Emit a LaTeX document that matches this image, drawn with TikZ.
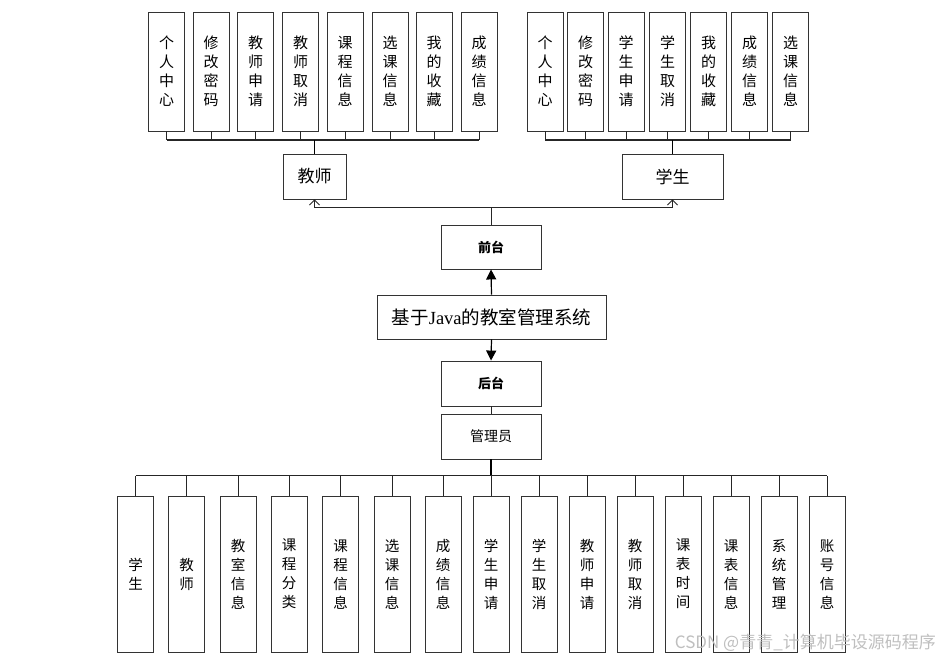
\documentclass[tikz,border=0pt]{standalone}
\usepackage{fontspec}
\setmainfont{Liberation Serif}
\newfontfamily\cjk{Noto Sans CJK SC}
\usetikzlibrary{arrows.meta}
\tikzset{
  box/.style={draw=black!80, line width=0.9pt, fill=white, inner sep=0pt, rectangle},
  vbox/.style={box, minimum width=36pt, minimum height=119pt, align=center,
    font=\cjk\fontsize{15}{19}\selectfont},
  bbox/.style={box, minimum width=36pt, minimum height=156pt, align=center,
    font=\cjk\fontsize{14.5}{19}\selectfont},
  conn/.style={draw=black!85, line width=0.9pt},
  bus/.style={draw=black!85, line width=1.3pt},
  openarr/.style={conn, -{Straight Barb[length=5pt,width=10pt]}},
  fillarr/.style={draw=black, line width=1.2pt, -{Triangle[length=10pt,width=10pt]}},
}
\begin{document}
\begin{tikzpicture}[x=1pt,y=-1pt]
\useasboundingbox (0,0) rectangle (940,659);
% teacher leaves
\foreach \n/\x/\t in {1/166.5/个\\人\\中\\心, 2/211/修\\改\\密\\码, 3/255.5/教\\师\\申\\请, 4/300.5/教\\师\\取\\消,
  5/345/课\\程\\信\\息, 6/390/选\\课\\信\\息, 7/434/我\\的\\收\\藏, 8/479/成\\绩\\信\\息}
  \node[vbox] (t\n) at (\x,71.5) {\t};
% student leaves
\foreach \n/\x/\t in {1/545/个\\人\\中\\心, 2/585.5/修\\改\\密\\码, 3/626/学\\生\\申\\请, 4/667.5/学\\生\\取\\消,
  5/708.5/我\\的\\收\\藏, 6/749.5/成\\绩\\信\\息, 7/790.5/选\\课\\信\\息}
  \node[vbox] (s\n) at (\x,71.5) {\t};
% middle boxes
\node[box, minimum width=63pt, minimum height=45pt, font=\cjk\fontsize{17}{20}\selectfont] (teacher) at (314.5,176.5) {教师};
\node[box, minimum width=101pt, minimum height=45pt, font=\cjk\fontsize{17}{20}\selectfont] (student) at (672.5,176.5) {学生};
\node[box, minimum width=100pt, minimum height=44pt, font=\cjk\bfseries\fontsize{13}{16}\selectfont] (qian) at (491,247) {前台};
\node[box, minimum width=229pt, minimum height=44pt, font=\fontsize{18.5}{22}\selectfont] (sys) at (491.5,317) {{\cjk 基于}Java{\cjk 的教室管理系统}};
\node[box, minimum width=100pt, minimum height=45pt, font=\cjk\bfseries\fontsize{13}{16}\selectfont] (hou) at (491,383.5) {后台};
\node[box, minimum width=100pt, minimum height=45pt, font=\cjk\fontsize{14}{16}\selectfont] (admin) at (491,436.5) {管理员};
% bottom leaves
\foreach \n/\x/\t in {1/135.5/学\\生, 2/186.5/教\\师, 3/238/教\\室\\信\\息, 4/289/课\\程\\分\\类,
  5/340.5/课\\程\\信\\息, 6/392/选\\课\\信\\息, 7/443/成\\绩\\信\\息, 8/491/学\\生\\申\\请,
  9/539/学\\生\\取\\消, 10/587/教\\师\\申\\请, 11/635/教\\师\\取\\消, 12/683/课\\表\\时\\间,
  13/731/课\\表\\信\\息, 14/779/系\\统\\管\\理, 15/827/账\\号\\信\\息}
  \node[bbox] (b\n) at (\x,574) {\t};
% teacher connectors
\coordinate (tbus) at (314.5,140);
\draw[bus] (t1.south |- tbus) -- (t8.south |- tbus);
\foreach \n in {1,...,8} \draw[conn] (t\n.south) -- (t\n.south |- tbus);
\draw[line width=1.8pt, draw=black] (tbus) -- (teacher.north);
% student connectors
\coordinate (sbus) at (672.5,140);
\draw[bus] (s1.south |- sbus) -- (s7.south |- sbus);
\foreach \n in {1,...,7} \draw[conn] (s\n.south) -- (s\n.south |- sbus);
\draw[line width=1.8pt, draw=black] (sbus) -- (student.north);
% front
\coordinate (fj) at (491,207);
\draw[conn] (qian.north) -- (fj);
\draw[openarr] (fj) -| (teacher.south);
\draw[openarr] (fj) -| (student.south);
\draw[fillarr] (sys.north) -- (qian.south);
\draw[fillarr] (sys.south) -- (hou.north);
\draw[conn] (hou.south) -- (admin.north);
% admin connectors
\coordinate (abus) at (491,475.5);
\draw[line width=1.8pt, draw=black] (admin.south) -- (abus);
\draw[bus] (b1.north |- abus) -- (b15.north |- abus);
\foreach \n in {1,...,15} \draw[conn] (b\n.north) -- (b\n.north |- abus);
% watermark
\node[anchor=east, text=black!25, font=\cjk\fontsize{17}{19}\selectfont, inner sep=0pt] (wm) at (936,643) {CSDN @青青\_计算机毕设源码程序};
\end{tikzpicture}
\end{document}
